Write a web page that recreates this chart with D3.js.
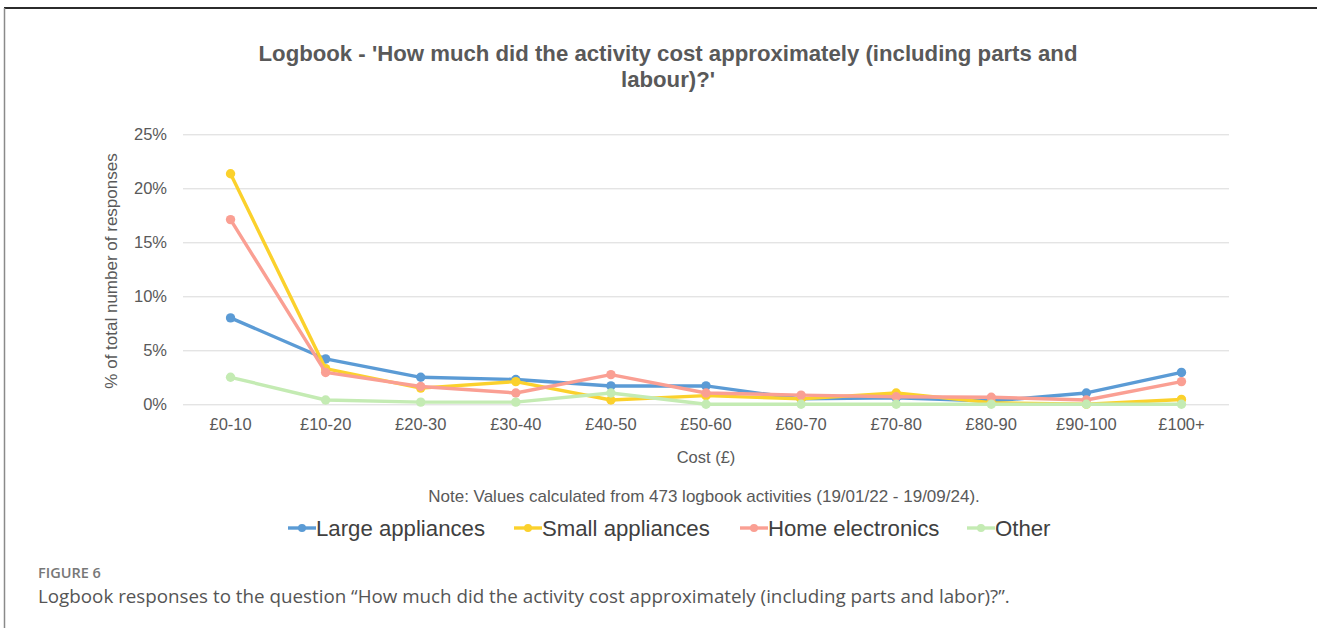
<!DOCTYPE html>
<html>
<head>
<meta charset="utf-8">
<script src="https://cdn.jsdelivr.net/npm/d3@7"></script>
<style>
  html, body { margin: 0; padding: 0; background: #fff; }
  svg { display: block; }
</style>
</head>
<body>
<svg id="chart" width="1317" height="628"></svg>
<script>
// Cost bands on the x axis
const categories = ["£0-10", "£10-20", "£20-30", "£30-40", "£40-50", "£50-60", "£60-70", "£70-80", "£80-90", "£90-100", "£100+"];

// Share of logbook responses (%) per cost band
const largeAppliances = [8.0, 4.2, 2.5, 2.3, 1.7, 1.7, 0.5, 0.6, 0.3, 1.05, 2.95];
const smallAppliances = [21.35, 3.3, 1.5, 2.1, 0.4, 0.8, 0.5, 1.05, 0.15, 0.0, 0.45];
const homeElectronics = [17.1, 2.95, 1.65, 1.05, 2.75, 1.05, 0.85, 0.7, 0.65, 0.4, 2.1];
const otherItems = [2.5, 0.4, 0.2, 0.2, 1.05, 0.0, 0.0, 0.0, 0.0, 0.0, 0.0];

const seriesNames = ["Large appliances", "Small appliances", "Home electronics", "Other"];
const seriesColors = ["#5B9BD5", "#FBD12C", "#FA9F93", "#C4EBB3"];

const yTicks = [0, 5, 10, 15, 20, 25];

const series = [largeAppliances, smallAppliances, homeElectronics, otherItems].map((values, i) => ({
  name: seriesNames[i],
  color: seriesColors[i],
  values
}));

const svg = d3.select("#chart");
const font = "'Liberation Sans', Arial, sans-serif";
const textColor = "#595959";

// Frame
svg.append("line").attr("x1", 4).attr("x2", 1317).attr("y1", 8).attr("y2", 8)
  .attr("stroke", "#2b2b2b").attr("stroke-width", 2);
svg.append("line").attr("x1", 4.5).attr("x2", 4.5).attr("y1", 8).attr("y2", 628)
  .attr("stroke", "#8a8a8a").attr("stroke-width", 1.5);

const plot = { left: 183, right: 1229, top: 134.3, bottom: 404.3 };

const x = d3.scaleBand().domain(categories).range([plot.left, plot.right]);
const y = d3.scaleLinear().domain([0, 25]).range([plot.bottom, plot.top]);

// Title
const title = svg.append("text")
  .attr("x", 668).attr("y", 61)
  .attr("text-anchor", "middle")
  .attr("font-family", font).attr("font-weight", "bold").attr("font-size", 22.2)
  .attr("fill", textColor);
title.append("tspan").attr("x", 668).attr("dy", 0)
  .text("Logbook - 'How much did the activity cost approximately (including parts and");
title.append("tspan").attr("x", 668).attr("dy", 25.5).text("labour)?'");

// Horizontal gridlines and y tick labels
const yAxis = d3.axisLeft(y).tickValues(yTicks)
  .tickSize(-(plot.right - plot.left)).tickPadding(16)
  .tickFormat(d => d + "%");
const yg = svg.append("g").attr("transform", `translate(${plot.left},0)`).call(yAxis);
yg.select(".domain").remove();
yg.selectAll(".tick line").attr("stroke", "#d9d9d9").attr("stroke-width", 1);
yg.selectAll(".tick text").attr("font-family", font).attr("font-size", 16.5).attr("fill", textColor);

// X axis labels
const xAxis = d3.axisBottom(x).tickSize(0).tickPadding(14);
const xg = svg.append("g").attr("transform", `translate(0,${plot.bottom})`).call(xAxis);
xg.select(".domain").remove();
xg.selectAll(".tick text").attr("font-family", font).attr("font-size", 16.5).attr("fill", textColor);

// Axis titles
svg.append("text")
  .attr("transform", "translate(117,271) rotate(-90)")
  .attr("text-anchor", "middle")
  .attr("font-family", font).attr("font-size", 17).attr("fill", textColor)
  .text("% of total number of responses");
svg.append("text")
  .attr("x", 706).attr("y", 463)
  .attr("text-anchor", "middle")
  .attr("font-family", font).attr("font-size", 16.5).attr("fill", textColor)
  .text("Cost (£)");

// Series lines and markers
const line = d3.line()
  .x((d, i) => x(categories[i]) + x.bandwidth() / 2)
  .y(d => y(d));

series.forEach(s => {
  const g = svg.append("g");
  g.append("path").datum(s.values)
    .attr("d", line)
    .attr("fill", "none")
    .attr("stroke", s.color)
    .attr("stroke-width", 3.4)
    .attr("stroke-linejoin", "round");
  g.selectAll("circle").data(s.values).join("circle")
    .attr("cx", (d, i) => x(categories[i]) + x.bandwidth() / 2)
    .attr("cy", d => y(d))
    .attr("r", 4.7)
    .attr("fill", s.color);
});

// Note
svg.append("text")
  .attr("x", 704).attr("y", 502)
  .attr("text-anchor", "middle")
  .attr("font-family", font).attr("font-size", 17).attr("fill", textColor)
  .text("Note: Values calculated from 473 logbook activities (19/01/22 - 19/09/24).");

// Legend
const legendX = [288, 514, 740, 967];
const legend = svg.append("g");
series.forEach((s, i) => {
  const g = legend.append("g").attr("transform", `translate(${legendX[i]},528)`);
  g.append("line").attr("x1", 0).attr("x2", 28).attr("y1", 0).attr("y2", 0)
    .attr("stroke", s.color).attr("stroke-width", 3.4);
  g.append("circle").attr("cx", 14).attr("cy", 0).attr("r", 4).attr("fill", s.color);
  g.append("text").attr("x", 28).attr("y", 8)
    .attr("font-family", font).attr("font-size", 22.2).attr("fill", "#404040")
    .text(s.name);
});

// Figure caption
svg.append("text")
  .attr("x", 38).attr("y", 578)
  .attr("font-family", "'Open Sans', 'Noto Sans', sans-serif").attr("font-size", 14.5)
  .attr("font-weight", 600)
  .attr("fill", "#777")
  .text("FIGURE 6");
svg.append("text")
  .attr("x", 38).attr("y", 603)
  .attr("font-family", "'Open Sans', 'Noto Sans', sans-serif").attr("font-size", 18.8)
  .attr("fill", "#555")
  .text("Logbook responses to the question “How much did the activity cost approximately (including parts and labor)?”.");
</script>
</body>
</html>
